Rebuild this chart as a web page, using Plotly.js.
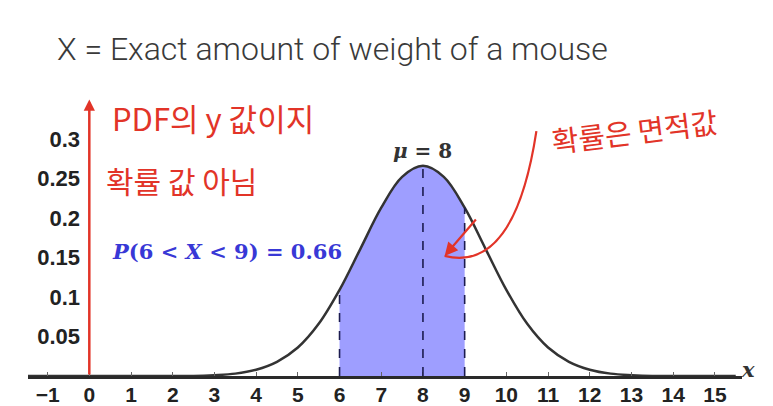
<!DOCTYPE html>
<html>
<head>
<meta charset="utf-8">
<script src="https://cdn.plot.ly/plotly-3.0.1.min.js"></script>
<style>html,body{margin:0;padding:0;background:#fff;}#chart{width:773px;height:406px;}</style>
</head>
<body>
<div id="chart"></div>
<script>
// Values
const xVals = [-1.5,-1,-0.5,0,0.5,1,1.5,2,2.5,3,3.5,4,4.5,5,5.5,6,6.5,7,7.5,8,8.5,9,9.5,10,10.5,11,11.5,12,12.5,13,13.5,14,14.5,15,15.5];
const yVals = [0,0,0,0,0,0,0,0,0,0.001,0.003,0.008,0.018,0.036,0.066,0.109,0.161,0.213,0.252,0.266,0.252,0.213,0.161,0.109,0.066,0.036,0.018,0.008,0.003,0.001,0,0,0,0,0];
const shadeFrom = 6, shadeTo = 9, mu = 8;
const dashedAt = [6, 8, 9];
const xTicks = [-1,0,1,2,3,4,5,6,7,8,9,10,11,12,13,14,15];
const yTicks = [0.05,0.1,0.15,0.2,0.25,0.3];
const yTickText = ['0.05','0.1','0.15','0.2','0.25','0.3'];
const titleText = 'X = Exact amount of weight of a mouse';
const note1 = 'PDF의 y 값이지';
const note2 = '확률 값 아님';
const note3 = '확률은 면적값';

const shadeX = [], shadeY = [];
xVals.forEach((x, i) => { if (x >= shadeFrom && x <= shadeTo) { shadeX.push(x); shadeY.push(yVals[i]); } });
const heightAt = v => yVals[xVals.indexOf(v)];

const red = 'rgb(226,52,40)';

const traces = [
  {x: shadeX, y: shadeY, type: 'scatter', mode: 'lines', fill: 'tozeroy',
   fillcolor: 'rgb(158,158,255)', line: {width: 0, shape: 'spline'}, hoverinfo: 'skip'},
  {x: xVals, y: yVals, type: 'scatter', mode: 'lines',
   line: {color: '#333333', width: 2.5, shape: 'spline', smoothing: 1}, hoverinfo: 'skip'}
];

const shapes = dashedAt.map(v => ({
  type: 'line', xref: 'x', yref: 'y', x0: v, x1: v, y0: 0, y1: heightAt(v),
  line: {color: '#1c1c50', width: 1.6, dash: 'dash'}
}));
// hand-drawn curved arrow shaft
shapes.push({type: 'path', xref: 'x', yref: 'y',
  path: 'M 10.72,0.31 Q 10.2,0.13 8.52,0.152',
  line: {color: red, width: 2.2}});

const L = 28, R = 31, T = 100, B = 30, W = 773, H = 406;
const pw = W - L - R, ph = H - T - B;
function px2paper(px, py) { return {x: (px - L) / pw, y: (H - B - py) / ph}; }
const n1 = px2paper(110, 118), n2 = px2paper(104, 180), n3 = px2paper(634, 130), xl = px2paper(757, 384);

const annotations = [
  // red vertical arrow along x = 0
  {x: 0, y: 0.35, xref: 'x', yref: 'y', ax: 0, ay: 0, axref: 'x', ayref: 'y',
   text: '', showarrow: true, arrowcolor: red, arrowwidth: 2.5, arrowhead: 2, arrowsize: 0.9, standoff: 0},
  // arrowhead of the curved arrow
  {x: 8.52, y: 0.152, xref: 'x', yref: 'y', ax: 9.3, ay: 0.2, axref: 'x', ayref: 'y',
   text: '', showarrow: true, arrowcolor: red, arrowwidth: 2.2, arrowhead: 2, arrowsize: 1.2, standoff: 0},
  {x: mu, y: 0.266, xref: 'x', yref: 'y', yshift: 15, text: '<i>μ</i> = 8', showarrow: false,
   font: {family: 'DejaVu Serif', size: 20, color: '#333333', weight: 'bold'}},
  {x: 3.3, y: 0.157, xref: 'x', yref: 'y', text: '<i>P</i>(6 &lt; <i>X</i> &lt; 9) = 0.66', showarrow: false,
   font: {family: 'DejaVu Serif', size: 21, color: 'rgb(56,56,214)', weight: 'bold'}},
  {xref: 'paper', yref: 'paper', x: n1.x, y: n1.y, xanchor: 'left', yanchor: 'middle', text: note1, showarrow: false,
   font: {family: 'Noto Sans CJK KR', size: 31, color: red}},
  {xref: 'paper', yref: 'paper', x: n2.x, y: n2.y, xanchor: 'left', yanchor: 'middle', text: note2, showarrow: false,
   font: {family: 'Noto Sans CJK KR', size: 30, color: red}},
  {xref: 'paper', yref: 'paper', x: n3.x, y: n3.y, xanchor: 'center', yanchor: 'middle', text: note3, showarrow: false,
   textangle: -7, font: {family: 'Noto Sans CJK KR', size: 29, color: red}},
  {xref: 'paper', yref: 'paper', x: xl.x, y: xl.y, text: '<i>x</i>', showarrow: false,
   font: {family: 'DejaVu Serif', size: 21, color: '#333', weight: 'bold'}}
];

const layout = {
  width: W, height: H,
  margin: {l: L, r: R, t: T, b: B, pad: 0},
  paper_bgcolor: '#ffffff', plot_bgcolor: '#ffffff',
  showlegend: false,
  title: {text: titleText, xref: 'container', yref: 'container', x: 57 / W, xanchor: 'left',
    y: 1 - 49 / H, yanchor: 'middle',
    font: {family: 'Roboto', size: 32, color: '#3a3a3a', weight: 300}},
  xaxis: {range: [-1.47, 15.65], showgrid: false, zeroline: false, showline: true,
    linecolor: '#2a2a2a', linewidth: 2.5, tickvals: xTicks, ticks: 'inside', ticklen: 4, tickcolor: '#666',
    tickfont: {family: 'Liberation Sans', size: 21, color: '#222', weight: 'bold'}, ticklabelstandoff: -2, fixedrange: true},
  yaxis: {range: [0, ph / 790], showgrid: false, zeroline: false, showline: false,
    anchor: 'free', position: (89 - L) / pw, tickvals: yTicks, ticktext: yTickText, ticks: '',
    tickfont: {family: 'Liberation Sans', size: 22, color: '#222', weight: 'bold'}, ticklabelstandoff: 9, fixedrange: true},
  shapes: shapes,
  annotations: annotations
};

Plotly.newPlot('chart', traces, layout, {staticPlot: true, displayModeBar: false});
</script>
</body>
</html>
